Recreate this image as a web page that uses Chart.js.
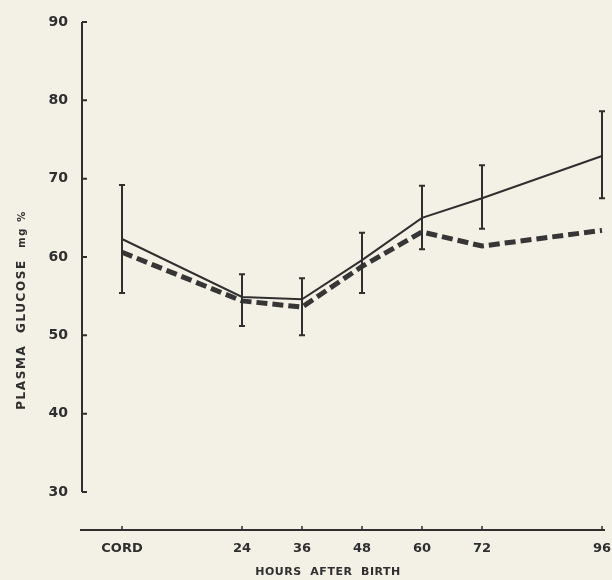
<!DOCTYPE html>
<html>
<head>
<meta charset="utf-8">
<script src="https://cdn.jsdelivr.net/npm/chart.js@4"></script>
<style>
html, body { margin: 0; padding: 0; background: #f3f1e6; }
#wrap { width: 612px; height: 580px; position: relative; }
</style>
</head>
<body>
<div id="wrap"><canvas id="glucoseChart"></canvas></div>
<script>
// values
const hours = [0, 24, 36, 48, 60, 72, 96];
const solidMeans = [62.3, 54.9, 54.6, 59.6, 65.0, 67.5, 72.9];
const solidLow = [55.4, 51.2, 50.0, 55.4, 61.0, 63.6, 67.5];
const solidHigh = [69.2, 57.8, 57.3, 63.1, 69.1, 71.7, 78.6];
const dashedMeans = [60.6, 54.4, 53.6, 58.8, 63.2, 61.4, 63.4];

const xTickValues = [0, 24, 36, 48, 60, 72, 96];
const xTickLabels = ['CORD', '24', '36', '48', '60', '72', '96'];
const yTickValues = [30, 40, 50, 60, 70, 80, 90];

const ink = '#2f2f2f';
const fontName = '"DejaVu Sans", sans-serif';

function toPoints(values) {
    return hours.map((h, i) => ({ x: h, y: values[i] }));
}

// hand drawn looking axes: y runs 30..90 only, x axis sits lower, ticks point inward
const paperAxes = {
    id: 'paperAxes',
    beforeDatasetsDraw(chart) {
        const ctx = chart.ctx;
        const xs = chart.scales.x;
        const ys = chart.scales.y;
        const left = chart.chartArea.left;
        const bottom = chart.chartArea.bottom;
        ctx.save();
        ctx.strokeStyle = ink;
        ctx.lineWidth = 2;
        ctx.beginPath();
        ctx.moveTo(left, ys.getPixelForValue(90));
        ctx.lineTo(left, ys.getPixelForValue(30));
        yTickValues.forEach(v => {
            const py = ys.getPixelForValue(v);
            ctx.moveTo(left, py);
            ctx.lineTo(left + 5, py);
        });
        ctx.stroke();

        ctx.beginPath();
        ctx.moveTo(left - 2, bottom);
        ctx.lineTo(chart.chartArea.right, bottom);
        ctx.stroke();
        ctx.lineWidth = 1.5;
        ctx.beginPath();
        xTickValues.forEach(v => {
            const px = xs.getPixelForValue(v);
            ctx.moveTo(px, bottom);
            ctx.lineTo(px, bottom - 4);
        });
        ctx.stroke();

        // axis titles
        ctx.fillStyle = ink;
        ctx.textBaseline = 'middle';
        ctx.textAlign = 'left';
        ctx.save();
        ctx.translate(22, 310);
        ctx.rotate(-Math.PI / 2);
        ctx.letterSpacing = '1.6px';
        ctx.font = 'bold 12px ' + fontName;
        const main = 'PLASMA  GLUCOSE  ';
        const mainW = ctx.measureText(main).width;
        ctx.font = 'bold 10px ' + fontName;
        const unit = 'mg %';
        const unitW = ctx.measureText(unit).width;
        const start = -(mainW + unitW) / 2;
        ctx.font = 'bold 12px ' + fontName;
        ctx.fillText(main, start, 0);
        ctx.font = 'bold 10px ' + fontName;
        ctx.fillText(unit, start + mainW, 0);
        ctx.restore();

        ctx.font = 'bold 11px ' + fontName;
        ctx.letterSpacing = '0.5px';
        ctx.textAlign = 'center';
        ctx.fillText('HOURS  AFTER  BIRTH', 328, 572);
        ctx.restore();
    },
    afterDatasetsDraw(chart) {
        const ctx = chart.ctx;
        const xs = chart.scales.x;
        const ys = chart.scales.y;
        ctx.save();
        ctx.strokeStyle = ink;
        ctx.lineWidth = 2;
        ctx.beginPath();
        hours.forEach((h, i) => {
            const px = xs.getPixelForValue(h);
            const top = ys.getPixelForValue(solidHigh[i]);
            const bot = ys.getPixelForValue(solidLow[i]);
            ctx.moveTo(px, top);
            ctx.lineTo(px, bot);
            ctx.moveTo(px - 3, top);
            ctx.lineTo(px + 3, top);
            ctx.moveTo(px - 3, bot);
            ctx.lineTo(px + 3, bot);
        });
        ctx.stroke();
        ctx.restore();
    }
};

const glucoseConfig = {
    type: 'line',
    data: {
        datasets: [
            {
                label: 'solid',
                data: toPoints(solidMeans),
                borderColor: ink,
                borderWidth: 2,
                pointRadius: 0,
                tension: 0
            },
            {
                label: 'dashed',
                data: toPoints(dashedMeans),
                borderColor: '#363636',
                borderWidth: 5,
                borderDash: [11, 5],
                pointRadius: 0,
                tension: 0
            }
        ]
    },
    options: {
        responsive: true,
        maintainAspectRatio: false,
        animation: false,
        layout: { padding: { left: 0, top: 22, right: 7, bottom: 0 } },
        plugins: {
            legend: { display: false },
            tooltip: { enabled: false }
        },
        scales: {
            x: {
                type: 'linear',
                min: -8,
                max: 96.6,
                grid: { display: false, drawTicks: false },
                border: { display: false },
                afterBuildTicks: scale => {
                    scale.ticks = xTickValues.map(v => ({ value: v }));
                },
                afterFit: scale => {
                    scale.height = 50;
                    scale.paddingLeft = 0;
                    scale.paddingRight = 0;
                },
                ticks: {
                    padding: 11,
                    maxRotation: 0,
                    autoSkip: false,
                    color: ink,
                    font: { family: fontName, size: 13, weight: 'bold' },
                    callback: value => xTickLabels[xTickValues.indexOf(value)]
                }
            },
            y: {
                type: 'linear',
                min: 25.15,
                max: 90,
                grid: { display: false, drawTicks: false },
                border: { display: false },
                afterBuildTicks: scale => {
                    scale.ticks = yTickValues.map(v => ({ value: v }));
                },
                afterFit: scale => {
                    scale.width = 82;
                    scale.paddingTop = 0;
                    scale.paddingBottom = 0;
                },
                ticks: {
                    padding: 14,
                    color: ink,
                    font: { family: fontName, size: 14, weight: 'bold' },
                    callback: value => String(value)
                }
            }
        }
    },
    plugins: [paperAxes]
};

let glucoseChart = new Chart(document.getElementById('glucoseChart'), glucoseConfig);
</script>
</body>
</html>
